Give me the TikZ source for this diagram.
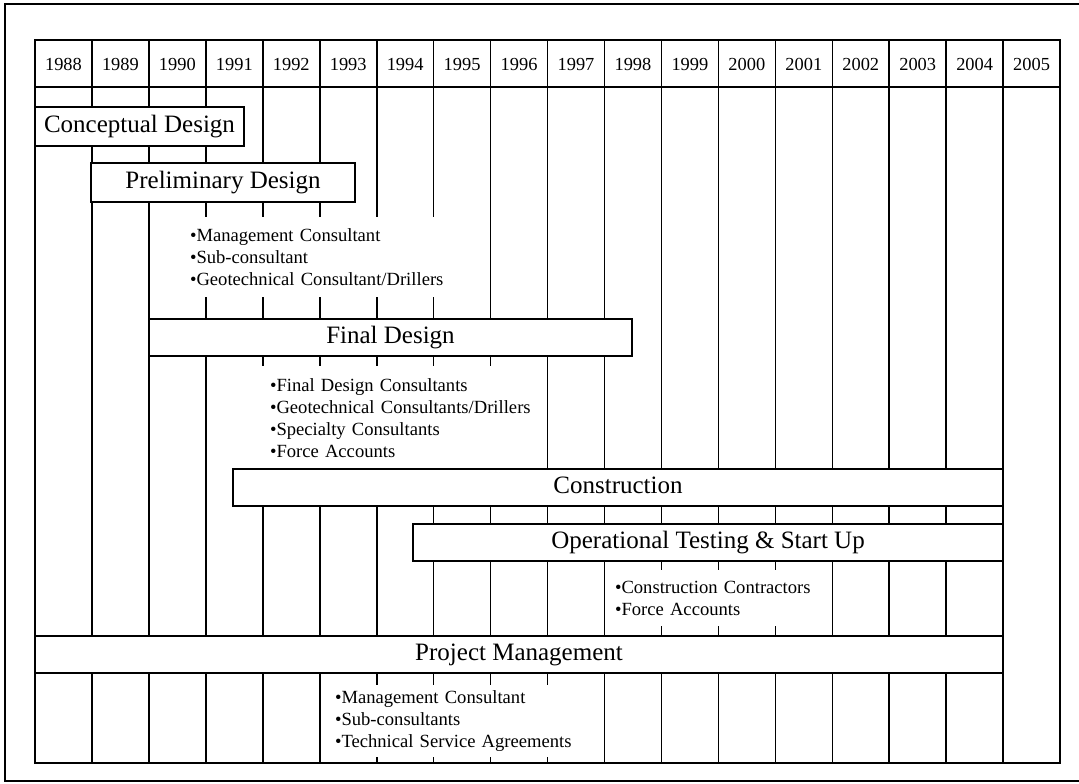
\documentclass[tikz,border=0pt]{standalone}
\usepackage{fontspec}
\setmainfont{Liberation Serif}
\tikzstyle{phase}=[draw, fill = white, inner sep = 0pt, minimum height = 18.5pt, font = \fontsize{12.5}{15}\selectfont, text height = 0.7em, text depth = 0.1em]
\tikzstyle{crew}=[fill = white, inner ysep = 0pt, align = left, font = \fontsize{9.3}{11}\selectfont]
\tikzstyle{yearlabel}=[inner sep = 0pt, font = \fontsize{9.2}{11}\selectfont, text height = 0.7em, text depth = 0.1em]

\begin{document}
\begin{tikzpicture}[x = 0.5pt, y = -0.5pt, line width = 0.8pt]
\useasboundingbox (0,0) rectangle (1079,783);
\draw[line width = 1pt] (1079,4) -- (5,4) -- (5,781) -- (1079,781);
% year grid
\draw (35,40) rectangle (1060,763);
\draw (35,87) -- (1060,87);
\foreach \i in {1,...,17}
  \draw ({35+56.95*\i},40) -- ({35+56.95*\i},763);
\foreach \yr [count = \i from 0] in {1988,...,2005}
  \node[yearlabel] (y\yr) at ({35+56.95*(\i+0.5)},64) {\yr};
% who does the work
\node[crew, inner xsep = 4pt, text width = 136pt, minimum height = 40pt] (prelimcrew) at (326,257) {•Management Consultant\\•Sub-consultant\\•Geotechnical Consultant/Drillers};
\node[crew, inner xsep = 5pt, text width = 131.5pt, minimum height = 52pt] (finalcrew) at (401.5,418) {•Final Design Consultants\\•Geotechnical Consultants/Drillers\\•Specialty Consultants\\•Force Accounts};
\node[crew, inner xsep = 3.5pt, text width = 102pt, minimum height = 28pt] (buildcrew) at (717,598) {•Construction Contractors\\•Force Accounts};
\node[crew, inner xsep = 4.5pt, text width = 126.5pt, minimum height = 36pt] (mgmtcrew) at (461.5,721) {•Management Consultant\\•Sub-consultants\\•Technical Service Agreements};
% phases
\node[phase, minimum width = 104.5pt, minimum height = 19.5pt] (concept) at (139.5,126.5) {Conceptual Design};
\node[phase, minimum width = 132pt, minimum height = 19.5pt] (prelim) at (223,182.5) {Preliminary Design};
\node[phase, minimum width = 241.5pt] (final) at (390.5,337.5) {Final Design};
\node[phase, minimum width = 385pt] (build) at (618,487.5) {Construction};
\node[phase, minimum width = 295pt] (optest) at (708,542.5) {Operational Testing \& Start Up};
\node[phase, minimum width = 484pt] (projmgmt) at (519,654.5) {Project Management};
%
\end{tikzpicture}
\end{document}
